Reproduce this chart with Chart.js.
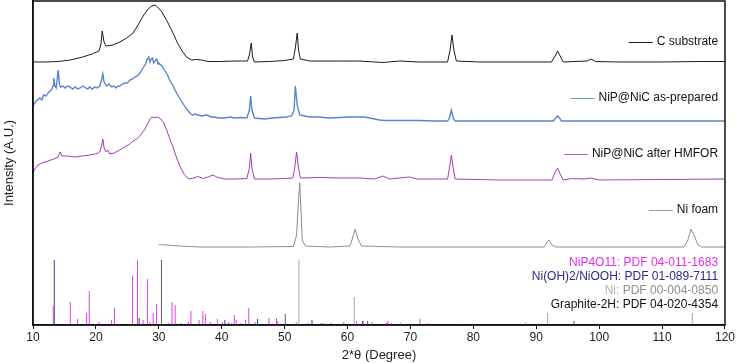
<!DOCTYPE html>
<html>
<head>
<meta charset="utf-8">
<script src="https://cdn.jsdelivr.net/npm/chart.js@4"></script>
<style>
  body { margin: 0; background: #fff; }
  canvas { display: block; }
</style>
</head>
<body>
<canvas id="xrdChart" width="736" height="363"></canvas>
<script>
// 2theta (deg) / intensity pairs, intensity in arbitrary offset units
const cSubstrate = [
  [10.0,263],[11.9,263],[14.0,263.5],[15.9,265],[17.9,268],[19.4,271],[20.5,274],[20.8,281],[21.0,294],[21.3,283],
  [21.6,279],[22.7,280],[23.8,283],[24.9,287],[25.9,292],[26.7,300],[27.5,309],[28.3,316],[28.9,319],[29.4,320],
  [29.8,318],[30.5,313],[31.3,304],[32.1,294],[32.9,283],[33.7,274],[34.4,268],[35.2,265],[36.0,265.5],[36.8,265],
  [37.8,263.5],[39.7,263.5],[42.1,264],[44.1,264],[44.4,270],[44.7,282],[44.9,268],[45.2,263],[47.6,263.5],[50.0,264.5],
  [51.4,266],[51.7,277],[52.0,292],[52.2,275],[52.5,266],[54.0,264],[58.7,264],[61.9,264],[64.3,263],[65.6,262.5],
  [68.3,264],[71.4,263],[75.9,263],[76.3,275],[76.6,290],[76.9,275],[77.3,264],[81.0,263],[87.3,263],[92.4,263],
  [93.0,269],[93.4,274],[93.8,269],[94.3,263],[96.0,263.5],[98.1,264],[98.7,266],[99.4,263.5],[103.2,263],[109.5,263],
  [115.9,263.5],[120.0,263.5]
];
const asPrepared = [
  [10.0,219],[10.5,224],[11.1,227],[11.4,225],[11.7,230],[12.1,229],[12.4,232],[12.9,235],[13.2,239],[13.3,247],[13.5,239],
  [13.7,237],[14.0,255],[14.2,241],[14.4,238],[14.8,239],[15.1,237],[15.5,239],[15.9,238],[16.3,236],[16.7,238],[17.1,236],
  [17.5,237],[17.9,239],[18.3,237.5],[18.7,236],[19.0,238],[19.4,236],[19.8,238],[20.2,237],[20.6,239],[20.9,245],
  [21.1,251],[21.3,243],[21.7,239],[22.1,241],[22.5,238],[22.9,239],[23.2,237],[23.5,239],[23.8,239],[24.2,241],[24.6,242],
  [25.0,242],[25.4,245],[25.8,246],[26.2,248],[26.6,249],[27.0,252],[27.3,255],[27.6,258],[27.9,261],[28.1,265],[28.4,268],
  [28.6,263],[28.8,266],[29.0,267],[29.2,262],[29.4,264],[29.6,266],[29.7,265],[29.9,261],[30.0,262],[30.3,260],[30.5,259],
  [30.8,256],[31.1,253],[31.4,250],[31.7,245],[32.1,241],[32.5,236],[32.9,231],[33.3,227],[33.7,223],[34.1,219],[34.4,216],
  [34.8,213],[35.1,211],[35.4,210],[35.8,211],[36.2,210],[36.6,209.5],[37.0,209],[37.4,210],[37.8,209.5],[38.3,208],
  [38.9,208],[39.5,207],[40.5,207],[41.3,208],[42.1,207],[43.0,207.5],[44.0,207],[44.4,215],[44.6,229],[44.8,215],
  [45.2,207],[46.0,206.5],[46.8,206],[48.0,207],[49.2,207.5],[50.2,208],[51.1,209],[51.5,215],[51.7,239],[52.0,220],
  [52.4,210],[53.2,209],[54.0,208],[55.5,208],[57.1,207],[58.7,207.5],[60.3,208],[61.5,208],[62.7,208],[63.5,207],
  [64.3,206],[65.1,205],[65.9,204.5],[68.5,204.5],[71.4,204.5],[73.7,204],[75.9,204],[76.2,207],[76.5,215],[76.8,207],
  [77.1,204],[82.0,204],[87.3,204],[92.7,204],[93.1,207],[93.4,209],[93.7,207],[94.0,204],[100.0,204],[110.0,204],[120.0,204]
];
const afterHMFOR = [
  [10.0,152],[10.3,156],[10.8,160],[11.4,162],[12.4,164],[13.3,166],[14.0,168],[14.3,173],[14.6,169],[15.6,169],
  [16.7,168],[17.8,169],[19.0,170],[20.2,171.5],[20.6,173],[20.9,179],[21.1,186],[21.3,177],[21.6,173],[21.9,175],
  [22.2,171],[22.9,172],[23.8,175],[24.8,179],[25.4,181],[25.9,184],[26.5,186],[27.1,190],[27.8,196],[28.3,202],
  [28.6,206],[28.9,208],[29.4,207.5],[29.8,208],[30.3,206],[30.8,202],[31.3,194],[31.7,187],[32.2,179],[32.9,166],
  [33.5,157],[34.1,150],[34.8,146],[35.6,147],[36.2,148.5],[37.0,146.5],[37.8,148],[38.6,150],[39.4,147.5],[40.5,146],
  [42.1,146],[44.0,146.5],[44.4,157],[44.6,172],[44.8,157],[45.2,146],[47.6,146],[50.0,146.5],[51.3,147],[51.6,157],
  [51.9,173],[52.2,157],[52.5,147],[55.6,147.5],[58.7,147],[61.9,147],[64.3,146],[65.6,149],[66.7,146],[68.3,147],
  [69.8,148],[71.1,146],[75.9,146],[76.2,157],[76.5,170],[76.8,157],[77.1,146],[84.1,145],[92.5,145],[93.0,153],
  [93.4,157],[93.8,151],[94.3,145],[95.6,146.5],[97.6,146],[98.7,147],[100.0,145],[110.0,145.5],[120.0,146]
];
const niFoam = [
  [30.0,80.5],[33.3,79],[36.5,78],[44.4,78],[51.4,78.5],[51.9,90],[52.2,125],[52.4,142],[52.6,115],[52.8,85],
  [53.3,79],[57.1,78],[60.4,79],[60.9,89],[61.2,96],[61.6,87],[62.2,79],[68.3,78],[91.3,78],[91.7,83],[92.0,85],
  [92.5,80],[93.1,78],[113.5,78],[114.1,85],[114.6,96],[114.9,92],[115.2,88],[115.7,80],[116.3,78],[120.0,78]
];

// reference patterns: [position, relative height]
const niP4O11Ref = [
  [13.22,19],[15.93,23],[17.09,6],[18.52,12],[18.94,34],[20.53,3],[22.49,5],[22.96,17],[25.82,49],[26.61,65],[27.5,5],
  [28.2,46],[28.6,3],[29.1,12],[29.63,21],[31.5,2],[32.1,23],[32.6,20],[33.5,2],[34.7,3],[35.1,14],[36.4,5],[37.0,14],
  [37.4,11],[38.2,3],[39.3,6],[40.1,3],[41.1,3],[41.6,2],[42.0,10],[42.3,5],[43.0,2],[43.8,5],[44.3,17],[45.3,3],
  [47.5,7],[48.7,7],[48.9,4],[51.85,3],[53.6,2],[55.8,2],[56.1,2],[59.4,3],[61.4,4],[62.5,4],[63.9,3],[66.2,2],
  [66.4,4],[67.0,2],[71.5,6]
];
const niOOHRef = [[13.38,65],[26.87,7],[40.5,5],[45.7,6],[54.35,5],[62.4,4],[77.7,1]];
const niRef = [[52.27,65],[61.06,28],[68.4,2.5],[72.9,2],[88.3,2.5],[91.8,12],[114.8,12]];
const graphiteRef = [[30.42,65],[50.1,11],[57.4,2],[63.2,4],[96.0,4]];

const xTicks = [10, 20, 30, 40, 50, 60, 70, 80, 90, 100, 110, 120];

const curveLabels = [
  {text: 'C substrate', y: 283, color: '#1a1a1a'},
  {text: 'NiP@NiC as-prepared', y: 227, color: '#6f95d8'},
  {text: 'NiP@NiC after HMFOR', y: 171, color: '#b565cc'},
  {text: 'Ni foam', y: 115, color: '#9a9a9a'}
];
const refLabels = [
  {name: 'NiP4O11:', pdf: ' PDF 04-011-1683', y: 62.3, nameColor: '#e030e8', pdfColor: '#e030e8'},
  {name: 'Ni(OH)2/NiOOH:', pdf: ' PDF 01-089-7111', y: 48, nameColor: '#2a2a8c', pdfColor: '#2a2a8c'},
  {name: 'Ni:', pdf: ' PDF 00-004-0850', y: 34.3, nameColor: '#b0b0b0', pdfColor: '#8e8e8e'},
  {name: 'Graphite-2H:', pdf: ' PDF 04-020-4354', y: 20, nameColor: '#111', pdfColor: '#111'}
];

const toPts = arr => arr.map(p => ({x: p[0], y: p[1]}));
const toSticks = arr => {
  const pts = [];
  arr.forEach(p => {
    pts.push({x: p[0], y: 0}, {x: p[0], y: p[1]}, {x: p[0], y: null});
  });
  return pts;
};

const curve = (data, color, w) => ({
  data: toPts(data), borderColor: color, borderWidth: w || 1, pointRadius: 0,
  showLine: true, tension: 0, fill: false
});
const sticks = (data, color) => ({
  data: toSticks(data), borderColor: color, borderWidth: 1, pointRadius: 0,
  showLine: true, spanGaps: false, tension: 0, fill: false
});

const labelPlugin = {
  id: 'labels',
  afterDatasetsDraw(chart) {
    const ctx = chart.ctx;
    const xs = chart.scales.x, ys = chart.scales.y;
    const right = xs.getPixelForValue(118.9);
    ctx.save();
    ctx.font = '12px "Liberation Sans", Arial, sans-serif';
    ctx.textBaseline = 'middle';
    ctx.textAlign = 'right';
    curveLabels.forEach(l => {
      const y = ys.getPixelForValue(l.y);
      ctx.fillStyle = '#111';
      ctx.fillText(l.text, right, y);
      const w = ctx.measureText(l.text).width;
      ctx.strokeStyle = l.color;
      ctx.lineWidth = 1;
      ctx.beginPath();
      ctx.moveTo(right - w - 28, Math.round(y) + 0.5);
      ctx.lineTo(right - w - 4, Math.round(y) + 0.5);
      ctx.stroke();
    });
    refLabels.forEach(l => {
      const y = ys.getPixelForValue(l.y);
      ctx.fillStyle = l.pdfColor;
      ctx.fillText(l.pdf, right, y);
      const w = ctx.measureText(l.pdf).width;
      ctx.fillStyle = l.nameColor;
      ctx.fillText(l.name, right - w, y);
    });
    // frame
    const a = chart.chartArea;
    ctx.strokeStyle = '#111';
    ctx.lineWidth = 1.5;
    ctx.strokeRect(a.left, a.top, a.right - a.left, a.bottom - a.top);
    ctx.restore();
  }
};

new Chart(document.getElementById('xrdChart').getContext('2d'), {
  type: 'scatter',
  data: {
    datasets: [
      sticks(niP4O11Ref, '#e040ea'),
      sticks(niRef, '#a6a6a6'),
      sticks(graphiteRef, '#5a5a5a'),
      sticks(niOOHRef, '#3a3a9a'),
      curve(niFoam, '#8c8c8c'),
      curve(afterHMFOR, '#9b3cb8'),
      curve(asPrepared, '#5a85cc', 1.4),
      curve(cSubstrate, '#1a1a1a')
    ]
  },
  options: {
    responsive: false,
    animation: false,
    layout: {padding: {top: 1, right: 10, left: 0, bottom: 0}},
    plugins: {legend: {display: false}, tooltip: {enabled: false}},
    scales: {
      x: {
        type: 'linear', min: 10, max: 120,
        afterBuildTicks: s => { s.ticks = xTicks.map(v => ({value: v})); },
        afterFit: s => { s.height = 38; },
        grid: {display: true, drawOnChartArea: false, drawTicks: true, tickLength: 4, color: '#111'},
        border: {display: true, color: '#111', width: 1.5},
        ticks: {color: '#222', padding: 1, maxRotation: 0,
          font: {family: '"Liberation Sans", Arial, sans-serif', size: 12}},
        title: {display: true, text: '2*θ (Degree)', color: '#222', padding: {top: 2, bottom: 0},
          font: {family: '"Liberation Sans", Arial, sans-serif', size: 13}}
      },
      y: {
        min: 0, max: 324,
        afterFit: s => { s.width = 33; },
        grid: {display: false},
        border: {display: true, color: '#111', width: 1.5},
        ticks: {display: false},
        title: {display: true, text: 'Intensity (A.U.)', color: '#222', padding: {top: 2, bottom: 0},
          font: {family: '"Liberation Sans", Arial, sans-serif', size: 13}}
      }
    }
  },
  plugins: [labelPlugin]
});
</script>
</body>
</html>
